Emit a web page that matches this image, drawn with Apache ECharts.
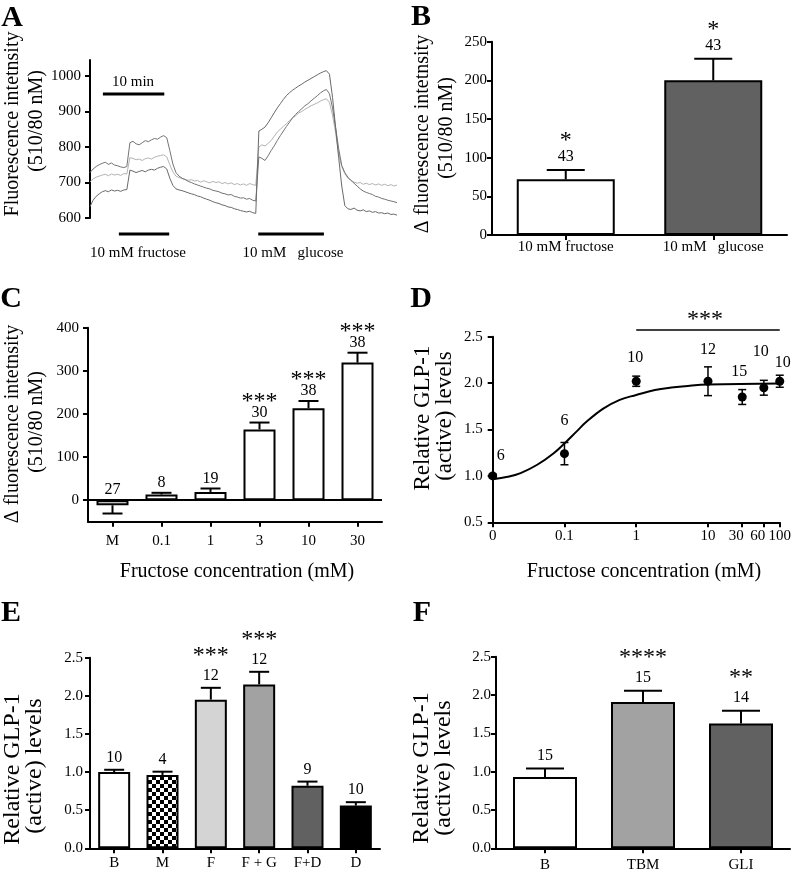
<!DOCTYPE html>
<html>
<head>
<meta charset="utf-8">
<script src="https://cdn.jsdelivr.net/npm/echarts@6/dist/echarts.min.js"></script>
<style>
  html, body { margin: 0; padding: 0; background: #fff; }
  #chart { width: 794px; height: 875px; }
</style>
</head>
<body>
<div id="chart"></div>
<script>
// ---------- data ----------

// A: calcium traces, one sample every 0.5 min (0 .. 50 min)
const traceLight = [
  702, 710, 715, 718, 721, 723, 719, 724, 721, 723,
  720, 725, 724, 770, 768, 764, 766, 762, 767, 769,
  766, 771, 774, 776, 778, 772, 750, 730, 718, 714,
  711, 709, 706, 708, 704, 706, 701, 705, 702, 699,
  703, 700, 702, 697, 700, 696, 699, 694, 697, 693,
  696, 692, 697, 694, 692, 800, 806, 803, 810, 818,
  830, 842, 850, 858, 866, 874, 882, 888, 896, 900,
  906, 911, 916, 920, 924, 929, 933, 936, 925, 890,
  840, 780, 745, 725, 712, 706, 701, 698, 700, 695,
  698, 694, 697, 693, 696, 692, 695, 691, 694, 690,
  693
];
const traceDark1 = [
  728, 738, 745, 750, 754, 757, 751, 755, 749, 747,
  744, 742, 745, 812, 816, 809, 806, 812, 818, 815,
  820, 824, 822, 828, 832, 826, 790, 752, 728, 718,
  712, 708, 703, 700, 696, 693, 690, 687, 684, 682,
  678, 676, 674, 670, 668, 665, 666, 661, 659, 656,
  657, 653, 655, 650, 648, 772, 768, 762, 775, 790,
  803, 818, 832, 845, 858, 870, 882, 892, 900, 908,
  916, 922, 930, 937, 944, 952, 958, 962, 950, 910,
  855, 795, 748, 728, 715, 706, 698, 690, 682, 676,
  672, 669, 666, 661, 659, 655, 653, 650, 648, 646,
  643
];
const traceDark2 = [
  632, 650, 661, 668, 674, 677, 674, 679, 676, 678,
  675, 679, 680, 735, 732, 728, 731, 734, 730, 735,
  737, 735, 740, 743, 745, 738, 712, 692, 682, 679,
  677, 674, 671, 668, 666, 662, 660, 656, 653, 650,
  646, 643, 641, 637, 635, 631, 630, 626, 624, 621,
  619, 617, 619, 615, 613, 845, 850, 856, 868, 882,
  896, 910, 922, 934, 945, 953, 960, 966, 972, 977,
  983, 988, 993, 998, 1003, 1008, 1012, 1015, 1005, 940,
  855, 770, 690, 635, 626, 624, 628, 622, 620, 623,
  618, 620, 616, 618, 614, 615, 612, 614, 610, 611,
  608
];
const timeStepA = 0.5;
const scaleBarA = [2.1, 12.1];     // "10 min"
const fructoseBarA = [4.7, 12.9];
const glucoseBarA = [27.4, 38.1];
const yTicksA = [600, 700, 800, 900, 1000];

// B
const catsB = ['10 mM fructose', '10 mM   glucose'];
const meanB = [72, 200];
const semB = [12, 28];
const nB = ['43', '43'];
const sigB = ['*', '*'];

// C
const catsC = ['M', '0.1', '1', '3', '10', '30'];
const meanC = [-12, 13, 19, 164, 213, 319];
const semC = [19, 4, 8, 16, 17, 23];
const nC = ['27', '8', '19', '30', '38', '38'];
const sigC = ['', '', '', '***', '***', '***'];
const yTicksC = [0, 100, 200, 300, 400];

// D (the 0 mM point sits at the axis origin, 0.01)
const concD = [0.01, 0.1, 1, 10, 30, 60, 100];
const meanD = [1.00, 1.24, 2.02, 2.02, 1.85, 1.95, 2.02];
const semD = [0.02, 0.12, 0.055, 0.155, 0.08, 0.08, 0.065];
const nD = ['6', '6', '10', '12', '15', '10', '10'];
const fitX = [0.01, 0.0162, 0.0245, 0.0417, 0.0708, 0.1, 0.148, 0.204, 0.347, 0.589, 1, 1.82, 3.09, 5.25, 10, 100];
const fitY = [0.965, 0.99, 1.03, 1.12, 1.245, 1.35, 1.48, 1.585, 1.725, 1.82, 1.872, 1.925, 1.952, 1.97, 1.984, 1.995];
const xTicksD = [0.01, 0.1, 1, 10, 30, 60, 100];
const xLabelsD = [0.01, 0.1, 1, 10, 100];
const xLabelsTightD = [30, 60];
const sigSpanD = [1, 100];
const sigLevelD = 2.572;

// E
const catsE = ['B', 'M', 'F', 'F + G', 'F+D', 'D'];
const meanE = [1.00, 0.96, 1.95, 2.15, 0.82, 0.56];
const semE = [0.03, 0.045, 0.155, 0.165, 0.055, 0.045];
const nE = ['10', '4', '12', '12', '9', '10'];
const sigE = ['', '', '***', '***', '', ''];

// F
const catsF = ['B', 'TBM', 'GLI'];
const meanF = [0.93, 1.91, 1.63];
const semF = [0.11, 0.145, 0.165];
const nF = ['15', '15', '14'];
const sigF = ['', '****', '**'];

// ---------- styling ----------
const FF = 'Liberation Serif';
const font = (px, bold) => (bold ? 'bold ' : '') + px + 'px "' + FF + '"';

const chk = document.createElement('canvas');
chk.width = 8; chk.height = 8;
const cctx = chk.getContext('2d');
cctx.fillStyle = '#fff'; cctx.fillRect(0, 0, 8, 8);
cctx.fillStyle = '#000'; cctx.fillRect(0, 0, 4, 4); cctx.fillRect(4, 4, 4, 4);

const fillB = ['#ffffff', '#616161'];
const fillC = ['#fff', '#fff', '#fff', '#fff', '#fff', '#fff'];
const fillE = ['#ffffff', { image: chk, repeat: 'repeat' }, '#d4d4d4', '#a2a2a2', '#616161', '#000000'];
const fillF = ['#ffffff', '#a2a2a2', '#616161'];

// N label shifts in D (px, relative to top of error bar)
const dDx = [8, 0, -1, 0, -3, -3, 3];
const dDy = [-18, -22, -18, -17, -18, -29, -12];

const axisLine = { show: true, onZero: false, lineStyle: { color: '#000', width: 2 } };
const axisTick = { show: true, length: 5, lineStyle: { color: '#000', width: 2 } };
const lbl = (margin, extra) => Object.assign({ color: '#000', fontFamily: FF, fontSize: 15, margin: margin }, extra || {});
const fmtD = v => (v <= 0.0100001 ? '0' : String(+v.toPrecision(3)));

function catX(gi, cats, margin) {
  return {
    type: 'category', gridIndex: gi, data: cats,
    axisLine: axisLine,
    axisTick: Object.assign({ alignWithLabel: true }, axisTick),
    axisLabel: lbl(margin, { interval: 0 }),
    splitLine: { show: false }
  };
}
function valY(gi, min, max, interval, margin, fmt, custom) {
  const al = lbl(margin, { formatter: fmt || (v => String(v)) });
  const at = Object.assign({}, axisTick);
  if (custom) { al.customValues = custom; at.customValues = custom; }
  return {
    type: 'value', gridIndex: gi, min: min, max: max, interval: interval,
    axisLine: axisLine, axisTick: at, axisLabel: al, splitLine: { show: false }
  };
}

function bars(gi, vals, fills, width) {
  return {
    type: 'bar', xAxisIndex: gi, yAxisIndex: gi, barWidth: width, z: 2,
    data: vals.map((v, i) => ({ value: v, itemStyle: { color: fills[i] } })),
    itemStyle: { borderColor: '#000', borderWidth: 2 }
  };
}

function barErrors(gi, vals, errs, ns, stars, capW, nGap, starGap) {
  return {
    type: 'custom', xAxisIndex: gi, yAxisIndex: gi, z: 5,
    encode: { x: 0, y: 1 },
    data: vals.map((v, i) => [i, v, errs[i]]),
    renderItem: function (params, api) {
      const i = api.value(0), v = api.value(1), e = api.value(2);
      const dir = v < 0 ? -1 : 1;
      const p0 = api.coord([i, v]);
      const p1 = api.coord([i, v + dir * e]);
      const top = dir > 0 ? p1[1] : api.coord([i, 0])[1];
      const ln = { stroke: '#000', lineWidth: 2 };
      const kids = [
        { type: 'line', shape: { x1: p0[0], y1: p0[1], x2: p1[0], y2: p1[1] }, style: ln },
        { type: 'line', shape: { x1: p1[0] - capW / 2, y1: p1[1], x2: p1[0] + capW / 2, y2: p1[1] }, style: ln },
        { type: 'text', style: { text: ns[params.dataIndex], x: p1[0], y: top - nGap, font: font(16), fill: '#000',
          align: 'center', verticalAlign: 'middle', textAlign: 'center', textVerticalAlign: 'middle' } }
      ];
      const s = stars[params.dataIndex];
      if (s) {
        kids.push({ type: 'text', style: { text: s, x: p1[0], y: top - starGap, font: font(24), fill: '#000',
          align: 'center', verticalAlign: 'middle', textAlign: 'center', textVerticalAlign: 'middle' } });
      }
      return { type: 'group', children: kids };
    }
  };
}

function hbar(span, level, width) {
  return {
    type: 'line', xAxisIndex: 0, yAxisIndex: 0, clip: false, symbol: 'none', silent: true,
    data: [[span[0], level], [span[1], level]],
    lineStyle: { color: '#000', width: width }
  };
}

function trace(vals, color) {
  return {
    type: 'line', xAxisIndex: 0, yAxisIndex: 0, symbol: 'none', silent: true,
    data: vals.map((v, i) => [i * timeStepA, v]),
    lineStyle: { color: color, width: 1 }
  };
}

function gtext(s, x, y, px, opt) {
  opt = opt || {};
  return {
    type: 'text', x: x, y: y, rotation: opt.rot ? Math.PI / 2 : 0, silent: true,
    style: { text: s, font: font(px, opt.bold), fill: '#000',
      align: 'center', verticalAlign: 'middle', textAlign: 'center', textVerticalAlign: 'middle' }
  };
}

const chart = echarts.init(document.getElementById('chart'));

const option = {
  backgroundColor: '#fff',
  animation: false,
  textStyle: { fontFamily: FF },
  grid: [
    { left: 90, top: 60, width: 307, height: 158 },
    { left: 492, top: 41.7, width: 295, height: 193.3 },
    { left: 88, top: 327.7, width: 294, height: 194 },
    { left: 492.7, top: 336.7, width: 290, height: 185.6 },
    { left: 90, top: 657.7, width: 290, height: 190.6 },
    { left: 496, top: 656.7, width: 294, height: 191.6 }
  ],
  xAxis: [
    { type: 'value', gridIndex: 0, min: 0, max: 50, show: false },
    catX(1, catsB, 5),
    catX(2, catsC, 12),
    {
      type: 'log', gridIndex: 3, logBase: 10, min: 0.01, max: 100, position: 'bottom',
      axisLine: axisLine,
      axisTick: Object.assign({ customValues: xTicksD }, axisTick),
      minorTick: { show: false },
      axisLabel: lbl(6, { customValues: xLabelsD, showMaxLabel: true, showMinLabel: true, formatter: fmtD }),
      splitLine: { show: false }
    },
    catX(4, catsE, 7),
    catX(5, catsF, 9),
    // second label row for the crowded 30 / 60 ticks
    {
      type: 'log', gridIndex: 3, logBase: 10, min: 0.01, max: 100, position: 'bottom', offset: 0,
      axisLine: { show: false }, axisTick: { show: false }, minorTick: { show: false },
      axisLabel: lbl(6, { customValues: xLabelsTightD, padding: [0, 12, 0, 0], formatter: fmtD }),
      splitLine: { show: false }
    }
  ],
  yAxis: [
    valY(0, 600, 1045, 100, 9, null, yTicksA),
    valY(1, 0, 250, 50, 5),
    valY(2, -50, 400, 50, 9, null, yTicksC),
    valY(3, 0.5, 2.5, 0.5, 10, v => v.toFixed(1)),
    valY(4, 0, 2.5, 0.5, 7, v => v.toFixed(1)),
    valY(5, 0, 2.5, 0.5, 5, v => v.toFixed(1))
  ],
  series: [
    // A
    trace(traceLight, '#b3b3b3'),
    trace(traceDark1, '#747474'),
    trace(traceDark2, '#6a6a6a'),
    hbar(scaleBarA, 949, 3),
    hbar(fructoseBarA, 555, 3),
    hbar(glucoseBarA, 555, 3),
    // B
    bars(1, meanB, fillB, 98),
    barErrors(1, meanB, semB, nB, sigB, 38, 13, 29),
    // C
    Object.assign(bars(2, meanC, fillC, 32), {
      markLine: { silent: true, symbol: 'none', label: { show: false },
        lineStyle: { color: '#000', width: 2, type: 'solid' }, data: [{ yAxis: 0 }] }
    }),
    barErrors(2, meanC, semC, nC, sigC, 20, 10, 21),
    // D
    {
      type: 'line', xAxisIndex: 3, yAxisIndex: 3, symbol: 'none', smooth: 0.4,
      data: fitX.map((x, i) => [x, fitY[i]]), lineStyle: { color: '#000', width: 2 }, z: 2
    },
    {
      type: 'custom', xAxisIndex: 3, yAxisIndex: 3, z: 3, encode: { x: 0, y: 1 },
      data: concD.map((x, i) => [x, meanD[i], semD[i]]),
      renderItem: function (params, api) {
        const i = params.dataIndex;
        const x = api.value(0), v = api.value(1), e = api.value(2);
        const lo = api.coord([x, v - e]), hi = api.coord([x, v + e]);
        const ln = { stroke: '#000', lineWidth: 1.5 };
        return { type: 'group', children: [
          { type: 'line', shape: { x1: lo[0], y1: lo[1], x2: hi[0], y2: hi[1] }, style: ln },
          { type: 'line', shape: { x1: lo[0] - 4, y1: lo[1], x2: lo[0] + 4, y2: lo[1] }, style: ln },
          { type: 'line', shape: { x1: hi[0] - 4, y1: hi[1], x2: hi[0] + 4, y2: hi[1] }, style: ln },
          { type: 'text', style: { text: nD[i], x: hi[0] + dDx[i], y: hi[1] + dDy[i], font: font(16), fill: '#000',
            align: 'center', verticalAlign: 'middle', textAlign: 'center', textVerticalAlign: 'middle' } }
        ] };
      }
    },
    {
      type: 'scatter', xAxisIndex: 3, yAxisIndex: 3, symbolSize: 9, z: 4,
      data: concD.map((x, i) => [x, meanD[i]]), itemStyle: { color: '#000', opacity: 1 }
    },
    {
      type: 'line', xAxisIndex: 3, yAxisIndex: 3, clip: false, symbol: 'none', silent: true,
      data: [[sigSpanD[0], sigLevelD], [sigSpanD[1], sigLevelD]], lineStyle: { color: '#000', width: 1.5 }
    },
    // E
    bars(4, meanE, fillE, 32),
    barErrors(4, meanE, semE, nE, sigE, 20, 12, 32),
    // F
    bars(5, meanF, fillF, 64),
    barErrors(5, meanF, semF, nF, sigF, 38, 13, 33)
  ],
  graphic: [
    gtext('A', 12, 18, 30, { bold: true }),
    gtext('B', 421, 17, 30, { bold: true }),
    gtext('C', 11, 299, 30, { bold: true }),
    gtext('D', 421, 299, 30, { bold: true }),
    gtext('E', 11, 613, 30, { bold: true }),
    gtext('F', 422, 613, 30, { bold: true }),

    gtext('10 min', 133, 82, 15),
    gtext('10 mM fructose', 138, 253, 15),
    gtext('10 mM   glucose', 293, 253, 15),

    gtext('Fluorescence intetnsity', 13, 124, 20, { rot: true }),
    gtext('(510/80 nM)', 37, 121, 20, { rot: true }),
    gtext('\u0394 fluorescence intetnsity', 423, 134, 20, { rot: true }),
    gtext('(510/80 nM)', 447, 128, 20, { rot: true }),
    gtext('\u0394 fluorescence intetnsity', 13, 424, 20, { rot: true }),
    gtext('(510/80 nM)', 37, 422, 20, { rot: true }),
    gtext('Relative GLP-1', 423, 418, 23, { rot: true }),
    gtext('(active) levels', 445, 416, 23, { rot: true }),
    gtext('Relative GLP-1', 13, 769, 24, { rot: true }),
    gtext('(active) levels', 35, 766, 24, { rot: true }),
    gtext('Relative GLP-1', 422, 768, 24, { rot: true }),
    gtext('(active) levels', 444, 768, 24, { rot: true }),

    gtext('Fructose concentration (mM)', 237, 572, 20),
    gtext('Fructose concentration (mM)', 644, 572, 20),
    gtext('***', 705, 320, 24)
  ]
};

chart.setOption(option);
</script>
</body>
</html>
